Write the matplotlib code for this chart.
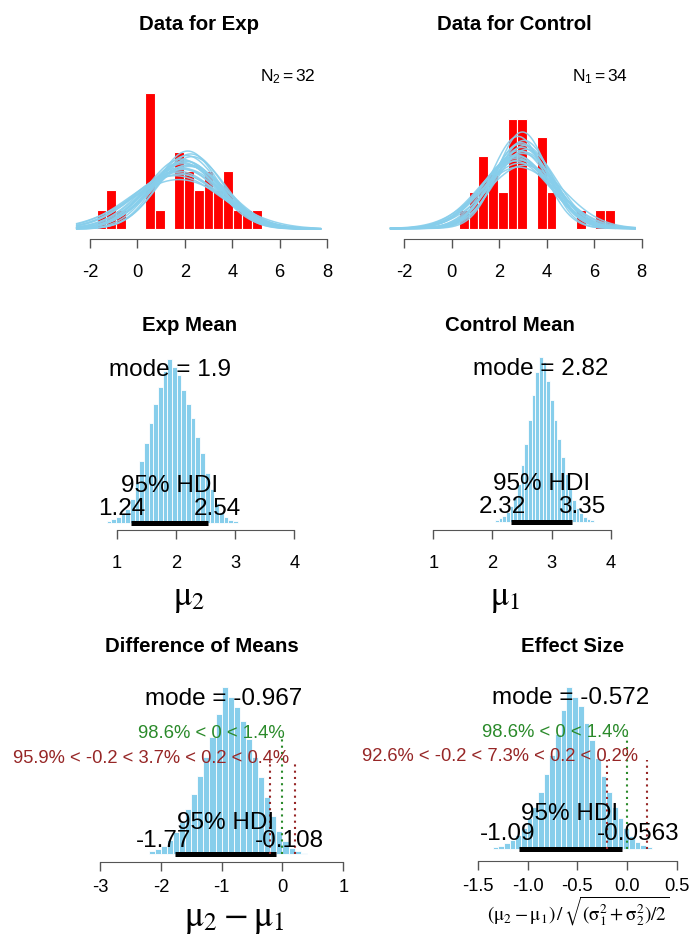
import numpy as np
import matplotlib
matplotlib.use("Agg")
import matplotlib.pyplot as plt

plt.rcParams["font.family"] = ["Liberation Sans", "DejaVu Sans"]
plt.rcParams["mathtext.fontset"] = "stix"
plt.rcParams["axes.unicode_minus"] = False

W, H = 689, 945

# ------------------------------------------------------------------ #
#  data
# ------------------------------------------------------------------ #
# raw data histograms (counts per bin)
exp_n = 32
exp_bin_start, exp_bin_width = -1.72, 0.41
exp_counts = [1, 2, 1, 0, 0, 7, 1, 0, 4, 3, 2, 3, 2, 3, 1, 1, 1]

ctrl_n = 34
ctrl_bin_start, ctrl_bin_width = 0.31, 0.41
ctrl_counts = [1, 2, 4, 3, 2, 6, 6, 0, 5, 2, 0, 0, 1, 0, 1, 1]

# posterior predictive curves (mean, sd)
curve_range = (-2.56, 7.72)
exp_curve_mu = [1.85, 2.10, 1.70, 2.25, 1.95, 1.60, 2.05, 1.80, 2.30, 1.90,
                2.15, 1.75, 2.00, 1.65, 2.20, 1.88, 2.08, 1.78, 1.98, 2.12]
exp_curve_sd = [1.45, 1.60, 1.75, 1.35, 1.55, 1.90, 1.50, 1.65, 1.40, 1.70,
                1.58, 2.05, 1.48, 1.80, 1.62, 1.52, 1.38, 1.85, 1.68, 1.30]
ctrl_curve_mu = [2.85, 3.05, 2.70, 2.95, 3.10, 2.80, 2.65, 3.00, 2.90, 2.75,
                 3.15, 2.88, 2.98, 2.72, 3.08, 2.82, 2.92, 2.68, 3.02, 2.86]
ctrl_curve_sd = [1.30, 1.15, 1.45, 1.25, 1.60, 1.10, 1.50, 1.35, 1.20, 1.40,
                 1.28, 1.55, 1.05, 1.38, 1.22, 1.65, 1.18, 1.42, 1.32, 1.48]

# posterior histograms (relative bar heights)
exp_mean_start, exp_mean_width = 0.83, 0.079
exp_mean_heights = [7, 12, 17, 27, 42, 72, 122, 187, 242, 302, 362, 412, 462, 497,
                    472, 447, 402, 362, 317, 262, 212, 152, 102, 62, 32, 17, 10, 5]
exp_mean_mode, exp_mean_hdi = 1.9, (1.24, 2.54)

ctrl_mean_start, ctrl_mean_width = 2.044, 0.062
ctrl_mean_heights = [5, 10, 18, 30, 48, 75, 115, 170, 235, 305, 380, 450, 495,
                     480, 425, 365, 305, 250, 195, 145, 100, 65, 40, 25, 14, 8, 4]
ctrl_mean_mode, ctrl_mean_hdi = 2.82, (2.32, 3.35)

diff_start, diff_width = -2.2, 0.1
diff_heights = [8, 14, 25, 42, 65, 95, 135, 180, 235, 290, 350, 420, 500,
                470, 440, 400, 345, 290, 230, 170, 115, 70, 38, 18, 8, 3]
diff_mode, diff_hdi = -0.967, (-1.77, -0.108)
diff_comp_pct = (98.6, 1.4)
diff_rope_pct = (95.9, 3.7, 0.4)

eff_start, eff_width = -1.35, 0.057
eff_heights = [6, 10, 17, 28, 44, 66, 95, 130, 175, 230, 290, 355, 430, 500,
               470, 440, 390, 335, 280, 225, 175, 130, 95, 65, 40, 22, 12, 5]
eff_mode, eff_hdi = -0.572, (-1.09, -0.0563)
eff_comp_pct = (98.6, 1.4)
eff_rope_pct = (92.6, 7.3, 0.2)

comp_val = 0
rope = (-0.2, 0.2)

data_ticks = [-2, 0, 2, 4, 6, 8]
mean_ticks = [1, 2, 3, 4]
diff_ticks = [-3, -2, -1, 0, 1]
eff_ticks = [-1.5, -1.0, -0.5, 0.0, 0.5]
eff_tick_labels = ["-1.5", "-1.0", "-0.5", "0.0", "0.5"]

# ------------------------------------------------------------------ #
fig = plt.figure(figsize=(W / 100, H / 100), dpi=100)
AXIS_COL = "#555555"
GREEN = "#2a8a2a"
DARKRED = "#962626"
BIG = 17.5
r_texts = []


def panel(left, right, tick_px, ticks, top, axis_y, zero_y, px_per_unit, pad):
    ax = fig.add_axes([left / W, 1 - axis_y / H, (right - left) / W, (axis_y - top) / H])
    sx = (tick_px[1] - tick_px[0]) / (ticks[-1] - ticks[0])
    ax.set_xlim(ticks[0] + (left - tick_px[0]) / sx, ticks[0] + (right - tick_px[0]) / sx)
    ax.set_ylim(-(axis_y - zero_y) / px_per_unit, (zero_y - top) / px_per_unit)
    for s in ["top", "left", "right"]:
        ax.spines[s].set_visible(False)
    ax.spines["bottom"].set_bounds(ticks[0], ticks[-1])
    ax.spines["bottom"].set_color(AXIS_COL)
    ax.set_yticks([])
    ax.set_xticks(ticks)
    ax.tick_params(axis="x", length=6.5, width=1, color=AXIS_COL, labelsize=13.2, pad=pad)
    ax.patch.set_alpha(0)
    return ax


def rtext(ax, x, y, s, adj, dy=0, **kw):
    t = ax.annotate(s, xy=(x, y), xytext=(0, dy), textcoords="offset pixels",
                    ha="left", va="baseline", annotation_clip=False, **kw)
    r_texts.append((t, adj, dy))


def data_panel(ax, start, width, counts, n, mus, sds):
    dens = np.array(counts) / (n * width)
    edges = start + width * np.arange(len(counts))
    ax.bar(edges, dens, width=width, align="edge", color="red",
           edgecolor="white", linewidth=0.8, zorder=1)
    xs = np.linspace(curve_range[0], curve_range[1], 300)
    for m, s in zip(mus, sds):
        ys = np.exp(-0.5 * ((xs - m) / s) ** 2) / (s * np.sqrt(2 * np.pi))
        ax.plot(xs, ys, color="skyblue", lw=1.1, alpha=0.9, zorder=2)


def post_panel(ax, start, width, heights, mode, hdi, lim_dy, hdi_dy):
    edges = start + width * np.arange(len(heights))
    ax.bar(edges, heights, width=width, align="edge", color="skyblue",
           edgecolor="white", linewidth=0.6)
    top = max(heights)
    ax.plot(hdi, [0, 0], color="black", lw=3.6, solid_capstyle="butt")
    rtext(ax, mode, 0.9 * top, f"mode = {mode}", 0.5, size=BIG)
    rtext(ax, np.mean(hdi), 0, "95% HDI", 0.5, dy=hdi_dy, size=BIG)
    rtext(ax, hdi[0], 0, f"{hdi[0]}", 0.7, dy=lim_dy, size=BIG)
    rtext(ax, hdi[1], 0, f"{hdi[1]}", 0.3, dy=lim_dy, size=BIG)
    return top


def comp_rope(ax, top, comp_pct, rope_pct):
    ax.plot([comp_val, comp_val], [0, 0.7 * top], ls=(0, (1, 2)), color=GREEN, lw=1.5)
    for r in rope:
        ax.plot([r, r], [0, 0.55 * top], ls=(0, (1, 2)), color=DARKRED, lw=1.5)
    rtext(ax, comp_val, 0.7 * top, f"{comp_pct[0]}% < {comp_val} < {comp_pct[1]}%",
          comp_pct[0] / 100, size=13.3, color=GREEN)
    rtext(ax, np.mean(rope), 0.55 * top,
          f"{rope_pct[0]}% < {rope[0]} < {rope_pct[1]}% < {rope[1]} < {rope_pct[2]}%",
          (rope_pct[0] + 0.5 * rope_pct[1]) / 100, size=13.2, color=DARKRED)


# ── row 1: data with posterior predictive curves ─────────────────
ax1 = panel(60, 340, (90, 327), data_ticks, 50, 240, 230, 254, 10.5)
data_panel(ax1, exp_bin_start, exp_bin_width, exp_counts, exp_n, exp_curve_mu, exp_curve_sd)
ax2 = panel(375, 655, (404, 641.7), data_ticks, 50, 240, 229.5, 254, 10.5)
data_panel(ax2, ctrl_bin_start, ctrl_bin_width, ctrl_counts, ctrl_n, ctrl_curve_mu, ctrl_curve_sd)
for ax in (ax1, ax2):
    ax.set_xticklabels([str(t) for t in data_ticks])

fig.text(199 / W, 1 - 30 / H, "Data for Exp", ha="center", va="baseline",
         fontsize=14.7, fontweight="bold")
fig.text(514 / W, 1 - 30 / H, "Data for Control", ha="center", va="baseline",
         fontsize=14.7, fontweight="bold")
fig.text(315 / W, 1 - 81 / H, r"$\mathregular{N_2 = %d}$" % exp_n, ha="right",
         va="baseline", fontsize=12.5)
fig.text(628 / W, 1 - 81 / H, r"$\mathregular{N_1 = %d}$" % ctrl_n, ha="right",
         va="baseline", fontsize=12.5)

# ── row 2: group means ────────────────────────────────────────────
ax3 = panel(85, 305, (116.7, 294.3), mean_ticks, 345, 531, 524,
            (524 - 360) / max(exp_mean_heights), 11)
post_panel(ax3, exp_mean_start, exp_mean_width, exp_mean_heights,
           exp_mean_mode, exp_mean_hdi, 9, 32)
ax4 = panel(400, 620, (433.3, 610.7), mean_ticks, 345, 530.7, 522.7,
            (522.7 - 358.3) / max(ctrl_mean_heights), 11)
post_panel(ax4, ctrl_mean_start, ctrl_mean_width, ctrl_mean_heights,
           ctrl_mean_mode, ctrl_mean_hdi, 10, 33)
for ax in (ax3, ax4):
    ax.set_xticklabels([str(t) for t in mean_ticks])

fig.text(190 / W, 1 - 331 / H, "Exp Mean", ha="center", va="baseline",
         fontsize=14.7, fontweight="bold")
fig.text(510 / W, 1 - 331 / H, "Control Mean", ha="center", va="baseline",
         fontsize=14.7, fontweight="bold")
fig.text(189 / W, 1 - 605 / H, r"$\mathrm{\mu}_\mathrm{2}$", ha="center",
         va="baseline", fontsize=25)
fig.text(505 / W, 1 - 605 / H, r"$\mathrm{\mu}_\mathrm{1}$", ha="center",
         va="baseline", fontsize=25)

# ── row 3: difference and effect size ─────────────────────────────
ax5 = panel(10, 350, (100, 343.3), diff_ticks, 670, 863.3, 855,
            (855 - 688.3) / max(diff_heights), 5)
top5 = post_panel(ax5, diff_start, diff_width, diff_heights, diff_mode, diff_hdi, 8, 26)
comp_rope(ax5, top5, diff_comp_pct, diff_rope_pct)
ax5.set_xticklabels([str(t) for t in diff_ticks])

ax6 = panel(360, 684, (477.7, 677), eff_ticks, 670, 861.7, 850,
            (850 - 688) / max(eff_heights), 5)
top6 = post_panel(ax6, eff_start, eff_width, eff_heights, eff_mode, eff_hdi, 10, 30)
comp_rope(ax6, top6, eff_comp_pct, eff_rope_pct)
ax6.set_xticklabels(eff_tick_labels)

fig.text(201.7 / W, 1 - 651.7 / H, "Difference of Means", ha="center", va="baseline",
         fontsize=14.7, fontweight="bold")
fig.text(573 / W, 1 - 651.7 / H, "Effect Size", ha="center", va="baseline",
         fontsize=14.7, fontweight="bold")
fig.text(234 / W, 1 - 926 / H, r"$\mathrm{\mu}_\mathrm{2} - \mathrm{\mu}_\mathrm{1}$",
         ha="center", va="baseline", fontsize=26)
fig.text(578 / W, 1 - 921 / H,
         r"$(\mathrm{\mu}_2 - \mathrm{\mu}_1)\,/\,\sqrt{(\mathrm{\sigma}_1^2"
         r" + \mathrm{\sigma}_2^2)/2}$",
         ha="center", va="baseline", fontsize=13.8)

# R-style fractional text adjustment
fig.canvas.draw()
renderer = fig.canvas.get_renderer()
for t, adj, dy in r_texts:
    w = t.get_window_extent(renderer).width
    t.xyann = (-adj * w, dy)

fig.savefig("out.png", dpi=100)
plt.close(fig)
